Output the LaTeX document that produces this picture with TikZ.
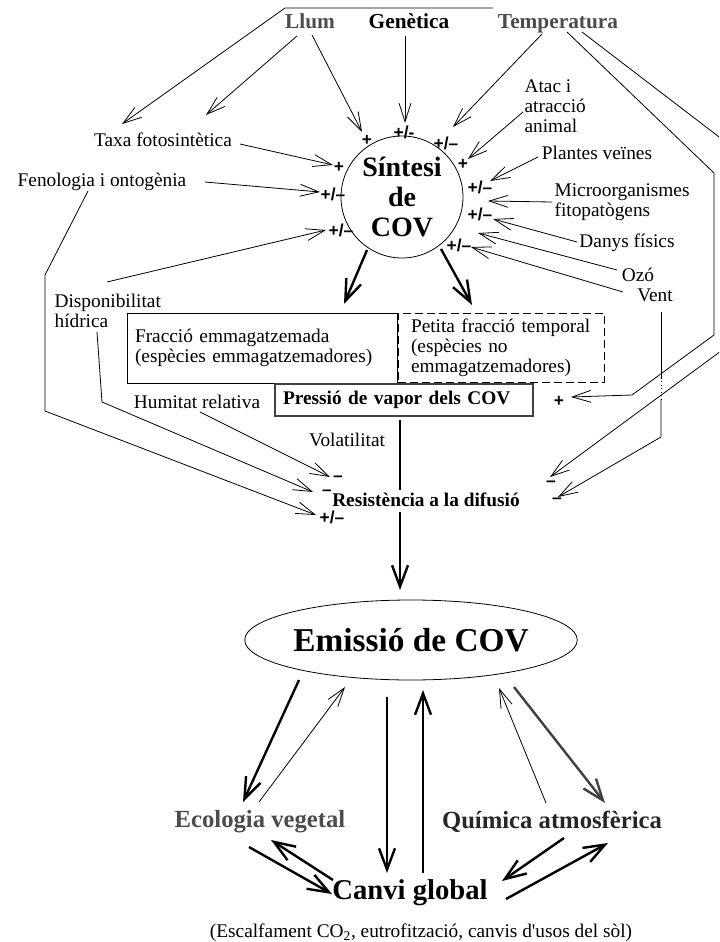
\documentclass[tikz,border=0pt]{standalone}
\usepackage{fontspec}
\setmainfont{Liberation Serif}
\newfontfamily\signfont{Liberation Sans}
\usetikzlibrary{arrows.meta,shapes.geometric}
\definecolor{txtgray}{gray}{0.3}
\begin{document}
\begin{tikzpicture}[x=0.75pt,y=-0.75pt,
  lbl/.style={font=\fontsize{14.5}{15}\selectfont, inner sep=1pt},
  lbll/.style={lbl, align=left},
  hdr/.style={font=\fontsize{16}{18}\selectfont\bfseries, inner sep=1pt, anchor=base},
  sgn/.style={font=\fontsize{13}{14}\selectfont\signfont\bfseries, inner sep=0.5pt},
  fineline/.style={line width=0.6pt},
  finearr/.style={fineline, -{Straight Barb[length=14pt,width=9pt]}},
  boldline/.style={line width=1.8pt},
  boldarr/.style={boldline, -{Straight Barb[length=16pt,width=12pt]}},
  bigbold/.style={font=\fontsize{18.5}{20}\selectfont\bfseries, inner sep=1pt},
]
\useasboundingbox (0,0) rectangle (719,942);
\clip (0,0) rectangle (719,942);

% ---------- labels ----------
\node[hdr, text=txtgray] (llum) at (310,29) {Llum};
\node[hdr] (gen) at (409,29) {Genètica};
\node[hdr, text=txtgray] (temp) at (558,29) {Temperatura};
\node[lbl] (taxa) at (163,140) {Taxa fotosintètica};
\node[lbl] (feno) at (102,182) {Fenologia i ontogènia};
\node[lbll, anchor=west] (disp) at (53,311) {Disponibilitat\\hídrica};
\node[lbl] (humi) at (197,402) {Humitat relativa};
\node[lbl] (vola) at (347,440) {Volatilitat};
\node[lbll, anchor=west] (atac) at (523,106) {Atac i\\atracció\\animal};
\node[lbl] (plant) at (597,153) {Plantes veïnes};
\node[lbll, anchor=west] (micro) at (553,202) {Microorganismes\\fitopatògens};
\node[lbl] (danys) at (627,243) {Danys físics};
\node[lbl] (ozo) at (638,275) {Ozó};
\node[lbl] (vent) at (655,295) {Vent};

\node[circle, draw, fineline, minimum size=91.5pt, inner sep=0pt, align=center,
      font=\fontsize{21}{22.5}\selectfont\bfseries] (sint) at (402,197) {Síntesi\\de\\COV};

\node[draw, fineline, minimum width=202.5pt, minimum height=52.5pt, text width=190.5pt,
      inner xsep=6pt, align=left, font=\fontsize{14.5}{15}\selectfont] (frac) at (262,348)
      {Fracció emmagatzemada\\(espècies emmagatzemadores)};
\node[draw, fineline, dash pattern=on 6pt off 3pt, minimum width=154.5pt, minimum height=51.75pt,
      text width=135pt, inner xsep=9.75pt, align=left, font=\fontsize{14.5}{15}\selectfont] (petita) at (501,347.5)
      {Petita fracció temporal\\(espècies no\\emmagatzemadores)};
\node[draw=black!75, line width=0.9pt, minimum width=193.5pt, minimum height=24pt, text width=181.5pt,
      inner xsep=6pt, align=left, font=\fontsize{14.5}{16}\selectfont\bfseries] (pres) at (404,400)
      {Pressió de vapor dels COV};
\node[font=\fontsize{14.5}{16}\selectfont\bfseries, inner sep=1pt] (resis) at (426,500) {Resistència a la difusió};

\node[ellipse, draw, fineline, minimum width=219pt, minimum height=60pt, inner sep=0pt,
      font=\fontsize{25}{27}\selectfont\bfseries] (emis) at (411,640) {Emissió de COV};

\node[bigbold, text=txtgray] (eco) at (260,822) {Ecologia vegetal};
\node[bigbold, text=black!85] (quim) at (552,822) {Química atmosfèrica};
\node[font=\fontsize{21.5}{23}\selectfont\bfseries, inner sep=1pt] (canvi) at (410,893) {Canvi global};
\node[lbl] (capt) at (421,933) {(Escalfament CO\textsubscript{2}, eutrofització, canvis d\textquotesingle usos del sòl)};

% ---------- signs ----------
\node[sgn] (s1) at (367,140) {+};
\node[sgn] (s2) at (404,132) {+/-};
\node[sgn] (s3) at (446,143) {+/–};
\node[sgn] (s4) at (463,164) {+};
\node[sgn] (s5) at (480,187) {+/–};
\node[sgn] (s6) at (480,214) {+/–};
\node[sgn] (s7) at (459,245) {+/–};
\node[sgn] (s8) at (339,167) {+};
\node[sgn] (s9) at (333,194) {+/–};
\node[sgn] (s10) at (341,230) {+/–};
\node[sgn] (s11) at (338,479) {–};
\node[sgn] (s12) at (327,493) {–};
\node[sgn] (s13) at (332,517) {+/–};
\node[sgn] (s14) at (559,401) {+};
\node[sgn] (s15) at (551,484) {–};
\node[sgn] (s16) at (557,501) {–};

% ---------- coordinates ----------
\coordinate (a1s) at (493,8);   \coordinate (a1b) at (285,8);   \coordinate (a1t) at (122,124);
\coordinate (a2s) at (297,36);  \coordinate (a2t) at (206,115);
\coordinate (a3s) at (312,35);  \coordinate (a3t) at (362,132);
\coordinate (a4s) at (405,36);  \coordinate (a4t) at (405,123);
\coordinate (a5s) at (542,34);  \coordinate (a5t) at (453,127);
\coordinate (a6s) at (567,32);  \coordinate (a6b) at (714,173); \coordinate (a6c) at (714,335);
\coordinate (a6d) at (632,395); \coordinate (a6t) at (571,397);
\coordinate (a7s) at (582,32);  \coordinate (a7b) at (740,153); \coordinate (a7c) at (740,337);
\coordinate (a7t) at (550,477);
\coordinate (a8s) at (240,144); \coordinate (a8t) at (333,165);
\coordinate (a9s) at (205,182); \coordinate (a9t) at (320,192);
\coordinate (a10s) at (88,191); \coordinate (a10b) at (45,275); \coordinate (a10c) at (45,411);
\coordinate (a10t) at (316,515);
\coordinate (a11s) at (107,282); \coordinate (a11t) at (326,230);
\coordinate (a12s) at (97,332); \coordinate (a12b) at (102,402); \coordinate (a12t) at (313,492);
\coordinate (a13s) at (200,412); \coordinate (a13t) at (330,477);
\coordinate (a14s) at (523,112); \coordinate (a14t) at (468,159);
\coordinate (a15s) at (538,157); \coordinate (a15t) at (490,181);
\coordinate (a16s) at (552,202); \coordinate (a16t) at (488,201);
\coordinate (a17s) at (577,242); \coordinate (a17t) at (493,219);
\coordinate (a18s) at (617,270); \coordinate (a18t) at (478,233);
\coordinate (a19s) at (623,292); \coordinate (a19t) at (471,247);
\coordinate (a20s) at (661,312); \coordinate (a20b) at (661,378); \coordinate (a20c) at (661,399);
\coordinate (a20d) at (661,437); \coordinate (a20t) at (558,497);

\coordinate (b1s) at (367,250); \coordinate (b1t) at (344,304);
\coordinate (b2s) at (441,249); \coordinate (b2t) at (472,305);
\coordinate (b3s) at (400,420); \coordinate (b3t) at (400,490);
\coordinate (b4s) at (400,512); \coordinate (b4t) at (400,590);

\coordinate (c1s) at (299,680); \coordinate (c1t) at (243,802);
\coordinate (c2s) at (259,802); \coordinate (c2t) at (345,687);
\coordinate (c3s) at (387,697); \coordinate (c3t) at (387,873);
\coordinate (c4s) at (423,873); \coordinate (c4t) at (423,690);
\coordinate (c5s) at (546,803); \coordinate (c5t) at (499,688);
\coordinate (c6s) at (514,687); \coordinate (c6t) at (605,803);
\coordinate (c7s) at (564,838); \coordinate (c7t) at (502,881);
\coordinate (c8s) at (506,899); \coordinate (c8t) at (608,843);
\coordinate (c9s) at (249,847); \coordinate (c9t) at (332,894);
\coordinate (c10s) at (333,880); \coordinate (c10t) at (271,840);

% ---------- thin connectors ----------
\draw[finearr] (a1s) -- (a1b) -- (a1t);
\draw[finearr] (a2s) -- (a2t);
\draw[finearr] (a3s) -- (a3t);
\draw[finearr] (a4s) -- (a4t);
\draw[finearr] (a5s) -- (a5t);
\draw[finearr] (a6s) -- (a6b) -- (a6c) -- (a6d) -- (a6t);
\draw[finearr] (a7s) -- (a7b) -- (a7c) -- (a7t);
\draw[finearr] (a8s) -- (a8t);
\draw[finearr] (a9s) -- (a9t);
\draw[finearr] (a10s) -- (a10b) -- (a10c) -- (a10t);
\draw[finearr] (a11s) -- (a11t);
\draw[finearr] (a12s) -- (a12b) -- (a12t);
\draw[finearr] (a13s) -- (a13t);
\draw[finearr] (a14s) -- (a14t);
\draw[finearr] (a15s) -- (a15t);
\draw[finearr] (a16s) -- (a16t);
\draw[finearr] (a17s) -- (a17t);
\draw[finearr] (a18s) -- (a18t);
\draw[finearr] (a19s) -- (a19t);
\draw[fineline] (a20s) -- (a20b);
\draw[fineline, dotted] (a20b) -- (a20c);
\draw[finearr] (a20c) -- (a20d) -- (a20t);

% ---------- thick connectors ----------
\draw[boldarr] (b1s) -- (b1t);
\draw[boldarr] (b2s) -- (b2t);
\draw[boldline] (b3s) -- (b3t);
\draw[boldarr] (b4s) -- (b4t);

\draw[boldarr] (c1s) -- (c1t);
\draw[finearr] (c2s) -- (c2t);
\draw[boldarr] (c3s) -- (c3t);
\draw[boldarr] (c4s) -- (c4t);
\draw[finearr] (c5s) -- (c5t);
\draw[boldarr, draw=black!75] (c6s) -- (c6t);
\draw[boldarr] (c7s) -- (c7t);
\draw[boldarr] (c8s) -- (c8t);
\draw[boldarr] (c9s) -- (c9t);
\draw[boldarr] (c10s) -- (c10t);
\end{tikzpicture}
\end{document}
